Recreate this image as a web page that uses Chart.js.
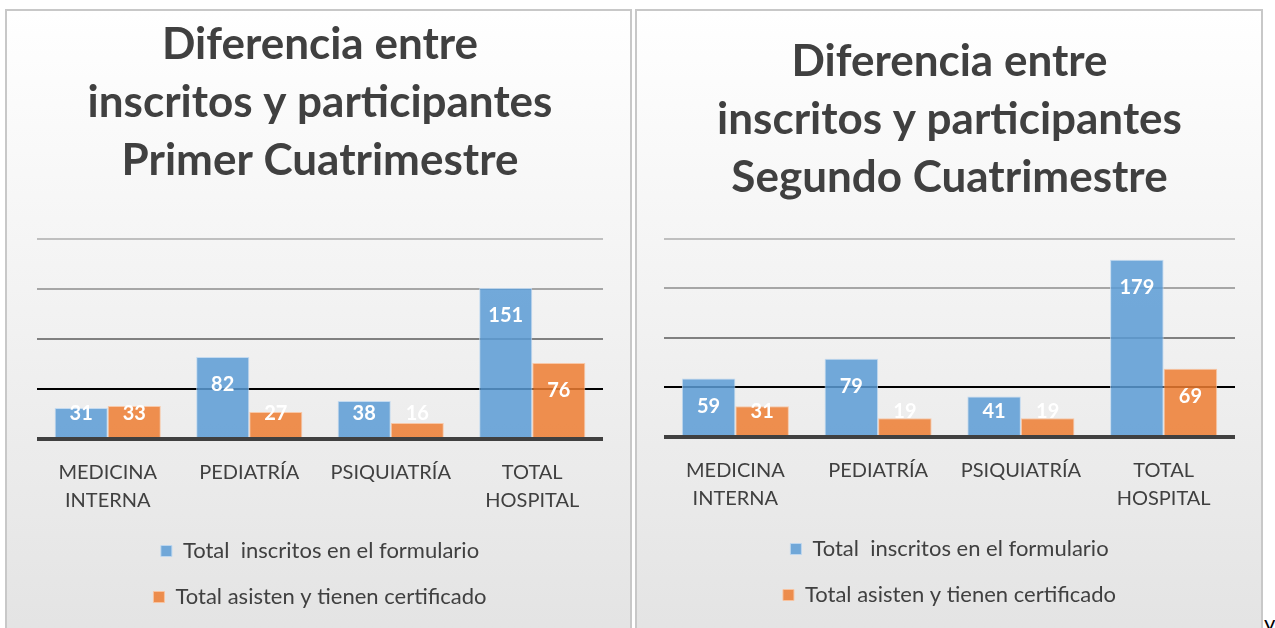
<!DOCTYPE html>
<html lang="es">
<head>
<meta charset="UTF-8">
<title>Diferencia entre inscritos y participantes</title>
<script src="https://cdn.jsdelivr.net/npm/chart.js"></script>
<style>
    body { margin: 0; background: #fff; width: 1275px; height: 628px; overflow: hidden; position: relative; font-family: Lato, sans-serif; }
    .panel {
        position: absolute; top: 9px; height: 640px; box-sizing: border-box;
        border: 2px solid #c8c8c8;
        background: linear-gradient(to bottom, #ffffff 0%, #f4f4f4 40%, #e3e3e3 100%);
    }
    .box { position: absolute; left: 0; top: 0; height: 617px; }
    .stray { position: absolute; left: 1264px; top: 609px; font-size: 22px; color: #000; }
</style>
</head>
<body>
    <div class="panel" style="left:5px; width:627px;">
        <div class="box" style="width:623px;"><canvas id="chart1"></canvas></div>
    </div>
    <div class="panel" style="left:635px; width:628px;">
        <div class="box" style="width:624px;"><canvas id="chart2"></canvas></div>
    </div>
    <span class="stray">y</span>

<script>
const categories = [['MEDICINA', 'INTERNA'], 'PEDIATRÍA', 'PSIQUIATRÍA', ['TOTAL', 'HOSPITAL']];
const seriesNames = ['Total  inscritos en el formulario', 'Total asisten y tienen certificado'];
const inscritos1 = [31, 82, 38, 151];
const asisten1 = [33, 27, 16, 76];
const inscritos2 = [59, 79, 41, 179];
const asisten2 = [31, 19, 19, 69];
const yMax = 200;
const yStep = 50;

const gridStyle = {
    0: ['#404040', 4],
    50: ['#000000', 2],
    100: ['#808080', 2],
    150: ['#a6a6a6', 2],
    200: ['#bfbfbf', 2]
};

// white value labels inside the bars
const barLabels = {
    id: 'barLabels',
    afterDatasetsDraw(chart) {
        const ctx = chart.ctx;
        const base = chart.scales.y.getPixelForValue(0);
        ctx.save();
        ctx.font = 'bold 20px Lato';
        ctx.fillStyle = '#ffffff';
        ctx.textAlign = 'center';
        ctx.textBaseline = 'middle';
        chart.data.datasets.forEach((ds, i) => {
            chart.getDatasetMeta(i).data.forEach((bar, j) => {
                const y = Math.min(bar.y + 28, base - 25);
                ctx.fillText(ds.data[j], bar.x, y);
            });
        });
        ctx.restore();
    }
};

function makeChart(id, title, inscritos, asisten, pad) {
    return new Chart(document.getElementById(id), {
        type: 'bar',
        data: {
            labels: categories,
            datasets: [
                { label: seriesNames[0], data: inscritos, backgroundColor: 'rgba(91,155,213,0.85)', borderColor: 'rgba(190,215,240,0.9)', borderWidth: 1 },
                { label: seriesNames[1], data: asisten, backgroundColor: 'rgba(237,125,49,0.85)', borderColor: 'rgba(248,195,160,0.9)', borderWidth: 1 }
            ]
        },
        options: {
            responsive: true,
            maintainAspectRatio: false,
            animation: false,
            events: [],
            layout: { padding: { left: pad.left, right: pad.right, top: 0, bottom: pad.bottom } },
            datasets: { bar: { categoryPercentage: 0.75, barPercentage: 1.0 } },
            scales: {
                x: {
                    grid: { display: false, drawTicks: false },
                    border: { display: false },
                    ticks: { color: '#404040', font: { family: 'Lato', size: 20, lineHeight: 1.4 }, padding: 20, maxRotation: 0, autoSkip: false },
                    afterFit: scale => { scale.height = 77; }
                },
                y: {
                    min: 0, max: yMax,
                    ticks: { stepSize: yStep, display: false },
                    border: { display: false },
                    grid: {
                        drawTicks: false,
                        color: c => (gridStyle[c.tick.value] || ['#bfbfbf'])[0],
                        lineWidth: c => (gridStyle[c.tick.value] || [0, 2])[1]
                    }
                }
            },
            plugins: {
                title: {
                    display: true,
                    text: title,
                    color: '#404040',
                    font: { family: 'Lato', size: 44, weight: 'bold', lineHeight: 1.318 },
                    padding: { top: pad.titleTop, bottom: pad.titleBottom }
                },
                legend: {
                    position: 'bottom',
                    labels: { color: '#404040', font: { family: 'Lato', size: 22 }, boxWidth: 11, boxHeight: 11, padding: 24 }
                },
                tooltip: { enabled: false }
            }
        },
        plugins: [barLabels]
    });
}

makeChart('chart1', ['Diferencia entre', 'inscritos y participantes', 'Primer Cuatrimestre'], inscritos1, asisten1,
    { left: 30, right: 27, bottom: 10, titleTop: 5, titleBottom: 49 });
makeChart('chart2', ['Diferencia entre', 'inscritos y participantes', 'Segundo Cuatrimestre'], inscritos2, asisten2,
    { left: 27, right: 26, bottom: 12, titleTop: 22, titleBottom: 32 });
</script>
</body>
</html>
